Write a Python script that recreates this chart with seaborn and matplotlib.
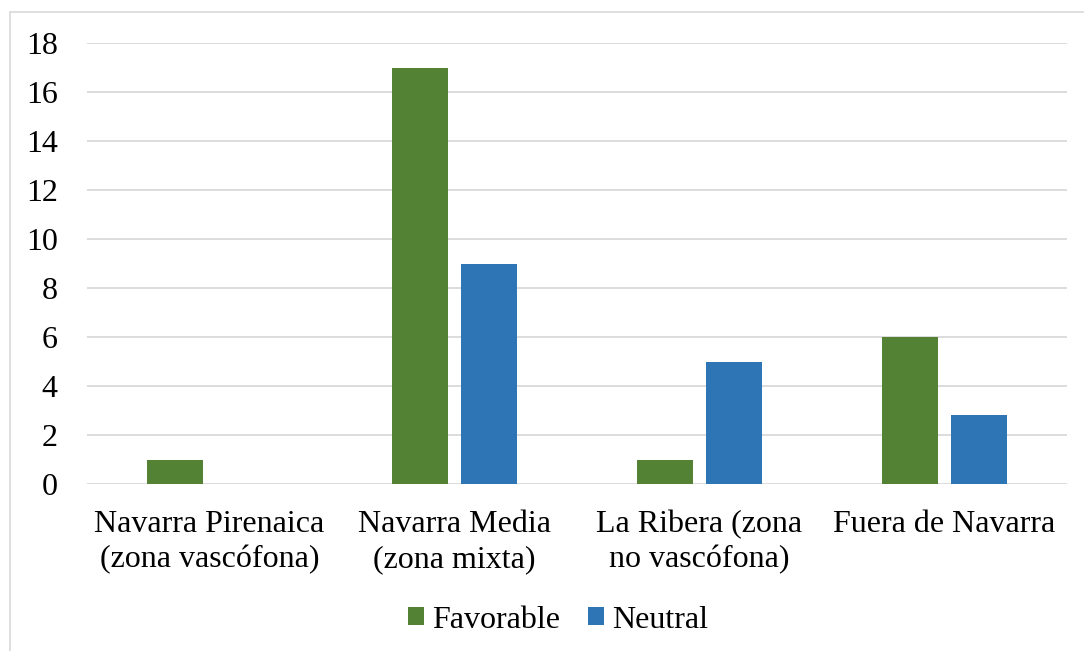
import matplotlib
matplotlib.use("Agg")
import matplotlib.pyplot as plt
from matplotlib.lines import Line2D
from matplotlib.patches import Patch
import seaborn as sns
import pandas as pd

categories = [
    "Navarra Pirenaica\n(zona vascófona)",
    "Navarra Media\n(zona mixta)",
    "La Ribera (zona\nno vascófona)",
    "Fuera de Navarra",
]
favorable = [1, 17, 1, 6]
neutral = [0, 9, 5, 2.8]
series = ["Favorable", "Neutral"]
colors = ["#548235", "#2E75B6"]
yticks = [0, 2, 4, 6, 8, 10, 12, 14, 16, 18]

df = pd.DataFrame({
    "categoria": categories * 2,
    "serie": [series[0]] * len(categories) + [series[1]] * len(categories),
    "valor": favorable + neutral,
})

sns.set_theme(style="white")
plt.rcParams["font.family"] = ["Liberation Serif", "DejaVu Serif"]

fig = plt.figure(figsize=(10.84, 6.51), dpi=100)
ax = fig.add_axes([87 / 1084, 1 - 484 / 651, (1067 - 87) / 1084, (484 - 43) / 651])

sns.barplot(data=df, x="categoria", y="valor", hue="serie", order=categories,
            hue_order=series, palette=colors, width=0.564, gap=0.2,
            saturation=1, ax=ax, legend=False, linewidth=0)

ax.set_ylim(0, 18)
ax.set_xlim(-0.5, len(categories) - 0.5)
ax.set_yticks(yticks)
ax.set_yticklabels([str(t) for t in yticks])
ax.yaxis.grid(True, color="#D9D9D9", linewidth=1.3)
ax.set_axisbelow(True)
for s in ax.spines.values():
    s.set_visible(False)
ax.set_xlabel("")
ax.set_ylabel("")
ax.tick_params(axis="y", labelsize=23, length=0, pad=21, colors="black")
ax.tick_params(axis="x", labelsize=23, length=0, pad=19, colors="black")
for lab in ax.get_xticklabels():
    lab.set_linespacing(1.25)

handles = [Patch(facecolor=c, edgecolor="none", label=s) for s, c in zip(series, colors)]
fig.legend(handles=handles, loc="center", bbox_to_anchor=(558 / 1084, 1 - 620 / 651),
           ncol=2, frameon=False, fontsize=23, labelcolor="black",
           handlelength=0.5, handleheight=0.5,
           handletextpad=0.25, columnspacing=0.9)

# chart frame
fig.add_artist(Line2D([10 / 1084, 10 / 1084], [0, 1 - 12 / 651], transform=fig.transFigure,
                      color="#D9D9D9", linewidth=1.2))
fig.add_artist(Line2D([10 / 1084, 1], [1 - 12 / 651, 1 - 12 / 651], transform=fig.transFigure,
                      color="#D9D9D9", linewidth=1.2))

fig.savefig("out.png", dpi=100)
